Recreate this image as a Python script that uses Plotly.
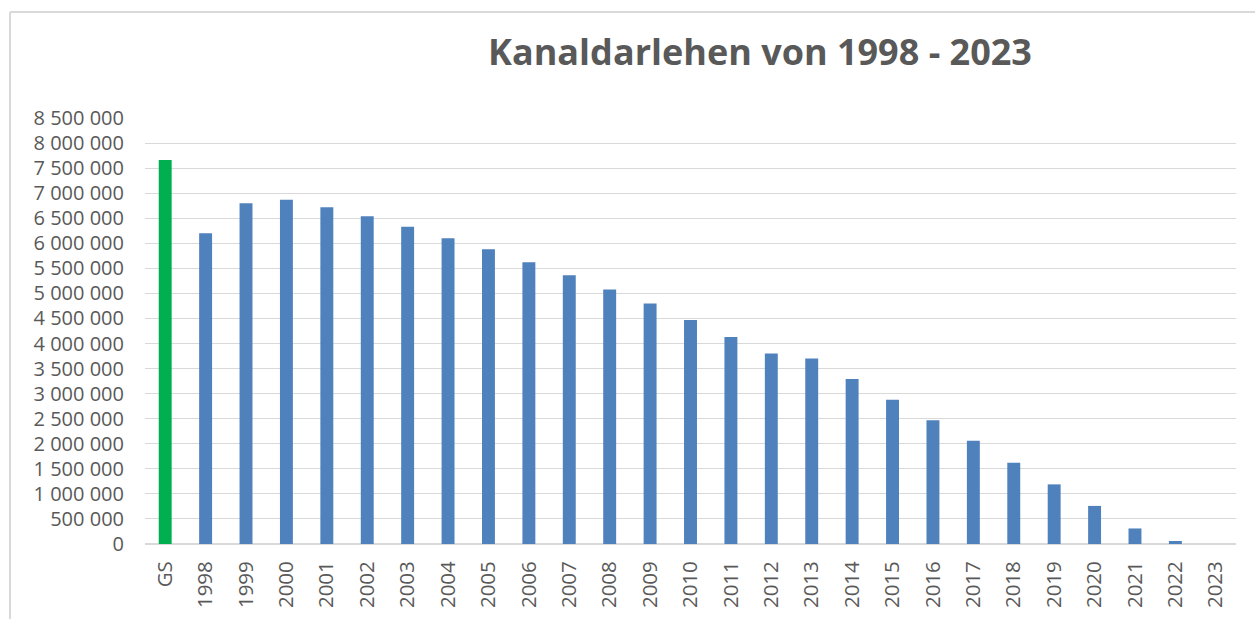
import plotly.graph_objects as go

categories = ["GS"] + [str(y) for y in range(1998, 2024)]
values = [7660000, 6200000, 6800000, 6870000, 6720000, 6540000, 6330000, 6100000,
          5880000, 5620000, 5360000, 5080000, 4800000, 4470000, 4130000, 3800000,
          3700000, 3290000, 2880000, 2470000, 2060000, 1620000, 1190000, 760000,
          310000, 60000, 0]
colors = ["#00B050"] + ["#4F81BD"] * 26
title_text = "Kanaldarlehen von 1998 - 2023"

W, H = 1255, 619
L, R, T, B = 145, 19, 118, 75
pw, ph = W - L - R, H - T - B

def px(x):
    return (x - L) / pw

def py(y):
    return (H - B - y) / ph

fig = go.Figure(go.Bar(x=categories, y=values, marker=dict(color=colors, line=dict(width=0)),
                       width=0.32))

fig.update_layout(
    width=W, height=H,
    margin=dict(l=L, r=R, t=T, b=B),
    paper_bgcolor="white", plot_bgcolor="white",
    separators=", ",
    font=dict(family="Open Sans", color="#595959", size=20),
    showlegend=False,
    title=dict(text=title_text, x=760 / W, xanchor="center", y=1 - 52 / H, yanchor="middle",
               font=dict(family="Open Sans", size=36, color="#595959", weight="bold")),
    xaxis=dict(type="category", range=[-0.5, 26.5], tickangle=-90, showgrid=False,
               showline=True, linecolor="#d9d9d9", linewidth=1, ticks="",
               ticklabelstandoff=8, tickfont=dict(size=20.5)),
    yaxis=dict(range=[0, 8500000], dtick=500000, tickformat=",d", showgrid=True,
               gridcolor="#d9d9d9", gridwidth=1, zeroline=True, zerolinecolor="#d9d9d9",
               showline=False, ticks="", ticklabelstandoff=20, tickfont=dict(size=20)),
    shapes=[
        dict(type="line", xref="paper", yref="paper", x0=px(10), x1=px(W + 5), y0=py(12), y1=py(12),
             line=dict(color="#d9d9d9", width=2)),
        dict(type="line", xref="paper", yref="paper", x0=px(10), x1=px(10), y0=py(12), y1=py(H + 5),
             line=dict(color="#d9d9d9", width=2)),
    ],
)

fig.write_html("out.html", config={"displayModeBar": False},
               post_script="document.body.style.margin='0';")
